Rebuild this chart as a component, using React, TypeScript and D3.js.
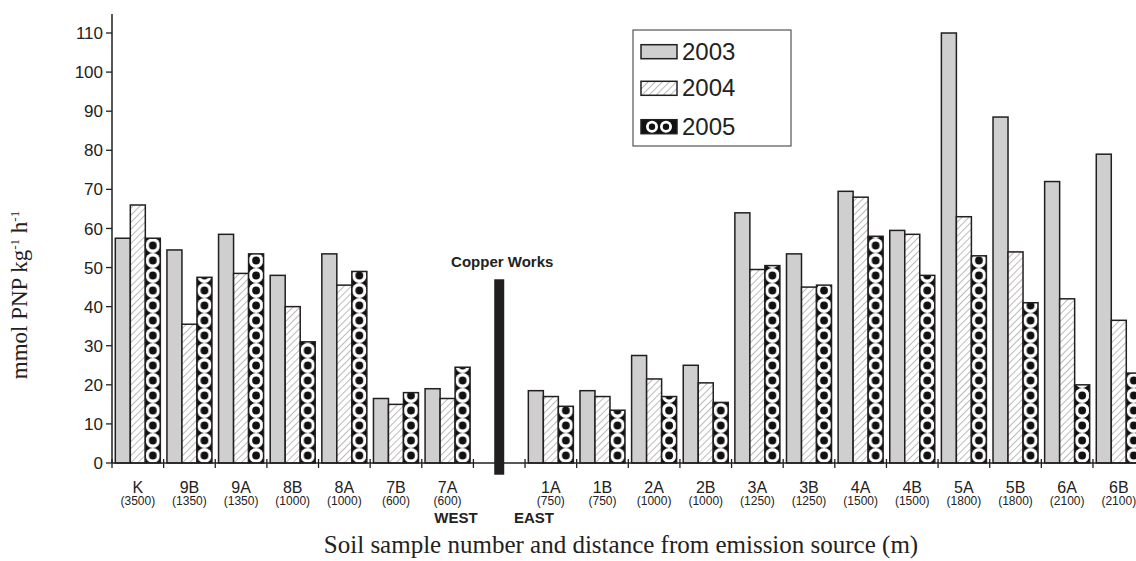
import * as d3 from "d3";

// sample number, distance from the copper works (m)
const westSamples = ["K", "9B", "9A", "8B", "8A", "7B", "7A"];
const eastSamples = ["1A", "1B", "2A", "2B", "3A", "3B", "4A", "4B", "5A", "5B", "6A", "6B"];
const samples = [...westSamples, ...eastSamples];
const distances = [
  "(3500)", "(1350)", "(1350)", "(1000)", "(1000)", "(600)", "(600)",
  "(750)", "(750)", "(1000)", "(1000)", "(1250)", "(1250)", "(1500)", "(1500)",
  "(1800)", "(1800)", "(2100)", "(2100)",
];
const years = ["2003", "2004", "2005"];

// mmol PNP kg-1 h-1
const values2003 = [57.5, 54.5, 58.5, 48, 53.5, 16.5, 19, 18.5, 18.5, 27.5, 25, 64, 53.5, 69.5, 59.5, 110, 88.5, 72, 79];
const values2004 = [66, 35.5, 48.5, 40, 45.5, 15, 16.5, 17, 17, 21.5, 20.5, 49.5, 45, 68, 58.5, 63, 54, 42, 36.5];
const values2005 = [57.5, 47.5, 53.5, 31, 49, 18, 24.5, 14.5, 13.5, 17, 15.5, 50.5, 45.5, 58, 48, 53, 41, 20, 23];
const yTicks = [0, 10, 20, 30, 40, 50, 60, 70, 80, 90, 100, 110];
const copperWorksHeight = 47;

const W = 1136;
const H = 561;
const GAP = "gap";
const SANS = "Liberation Sans, Arial, sans-serif";
const SERIF = "Liberation Serif, Times New Roman, serif";

export default function App() {
  const slots = [...westSamples, GAP, ...eastSamples];
  const x0 = 112;
  const step = 51.63;
  const x = d3.scaleBand().domain(slots).range([x0, x0 + step * slots.length]);
  const xInner = d3.scaleBand().domain(years).range([0, x.bandwidth()]).paddingOuter(0.22);
  const y = d3.scaleLinear().domain([0, 110]).range([463, 33]);

  const series = [values2003, values2004, values2005];
  const fills = ["#cfcfcf", "url(#hatch)", "url(#dots)"];
  const bw = xInner.bandwidth();
  const dotCx = (xInner("2005") as number) + bw / 2;
  const dotStep = 15;
  const stroke = "#231f20";
  const base = y(0);

  const legendY = [51.7, 88.3, 126.7];

  return (
    <svg width={W} height={H} style={{ position: "absolute", left: 0, top: 0, background: "#fff" }}>
      <defs>
        <pattern id="hatch" patternUnits="userSpaceOnUse" width={5} height={5} patternTransform="rotate(45)">
          <rect width={5} height={5} fill="#fff" />
          <line x1={0} y1={0} x2={0} y2={5} stroke="#666" strokeWidth={0.9} />
        </pattern>
        {/* bars sit inside a group translated to the slot start, so x=0 here */}
        <pattern id="dots" patternUnits="userSpaceOnUse" x={0} y={base} width={step} height={dotStep}>
          <rect width={step} height={dotStep} fill="#111" />
          <circle cx={dotCx} cy={dotStep / 2} r={7.4} fill="#fff" />
          <circle cx={dotCx} cy={dotStep / 2} r={3.9} fill="#111" />
        </pattern>
      </defs>

      {/* bars */}
      {samples.map((s, i) => (
        <g key={s} transform={`translate(${x(s)},0)`}>
          {years.map((yr, k) => {
            const v = series[k][i];
            return (
              <rect
                key={yr}
                x={xInner(yr)}
                y={y(v)}
                width={bw}
                height={base - y(v)}
                fill={fills[k]}
                stroke={stroke}
                strokeWidth={1.5}
              />
            );
          })}
        </g>
      ))}

      {/* y axis */}
      <line x1={x0} x2={x0} y1={14} y2={base} stroke={stroke} strokeWidth={1.5} />
      {yTicks.map((t) => (
        <g key={t}>
          <line x1={x0 - 6} x2={x0} y1={y(t)} y2={y(t)} stroke={stroke} strokeWidth={1.3} />
          <text x={x0 - 9} y={y(t)} dy="0.36em" textAnchor="end" fontFamily={SANS} fontSize={17} fill="#222">
            {t}
          </text>
        </g>
      ))}

      {/* x axis */}
      <line x1={x0} x2={W} y1={base} y2={base} stroke={stroke} strokeWidth={1.5} />
      {d3.range(slots.length + 1).map((i) => (
        <line key={i} x1={x0 + i * step} x2={x0 + i * step} y1={base - 4} y2={base + 5} stroke={stroke} strokeWidth={1.3} />
      ))}
      {samples.map((s, i) => {
        const cx = (x(s) as number) + x.bandwidth() / 2;
        return (
          <g key={s} fontFamily={SANS} fill="#222" textAnchor="middle">
            <text x={cx} y={493} fontSize={16}>{s}</text>
            <text x={cx} y={505} fontSize={12}>{distances[i]}</text>
          </g>
        );
      })}
      <text x={456} y={523} textAnchor="middle" fontFamily={SANS} fontWeight="bold" fontSize={15} fill="#222">WEST</text>
      <text x={534} y={523} textAnchor="middle" fontFamily={SANS} fontWeight="bold" fontSize={15} fill="#222">EAST</text>

      {/* copper works */}
      <rect
        x={(x(GAP) as number) + x.bandwidth() / 2 - 5}
        y={y(copperWorksHeight)}
        width={10}
        height={y(-3) - y(copperWorksHeight)}
        fill="#231f20"
      />
      <text x={(x(GAP) as number) + x.bandwidth() / 2 + 3} y={267} textAnchor="middle" fontFamily={SANS} fontWeight="bold" fontSize={15} fill="#222">
        Copper Works
      </text>

      {/* legend */}
      <rect x={633} y={30} width={158} height={116} fill="#fff" stroke="#333" strokeWidth={1} />
      {years.map((yr, k) => (
        <g key={yr} transform={`translate(641,${legendY[k]})`}>
          {k === 2 ? (
            <g>
              <rect x={0} y={-7} width={36} height={14} fill="#111" stroke={stroke} strokeWidth={1.5} />
              <circle cx={11} cy={0} r={6} fill="#fff" />
              <circle cx={11} cy={0} r={3.2} fill="#111" />
              <circle cx={25} cy={0} r={6} fill="#fff" />
              <circle cx={25} cy={0} r={3.2} fill="#111" />
            </g>
          ) : (
            <rect x={0} y={-7} width={36} height={14} fill={fills[k]} stroke={stroke} strokeWidth={1.5} />
          )}
          <text x={41} y={8} fontFamily={SANS} fontSize={24} fill="#222">{yr}</text>
        </g>
      ))}

      {/* axis titles */}
      <text
        transform={`translate(27,${295}) rotate(-90)`}
        textAnchor="middle"
        fontFamily={SERIF}
        fontSize={23}
        fill="#222"
      >
        mmol PNP kg<tspan dy={-8} fontSize={13}>-1</tspan>
        <tspan dy={8}> h</tspan>
        <tspan dy={-8} fontSize={13}>-1</tspan>
      </text>
      <text x={621} y={553} textAnchor="middle" fontFamily={SERIF} fontSize={25} fill="#222">
        Soil sample number and distance from emission source (m)
      </text>
    </svg>
  );
}
